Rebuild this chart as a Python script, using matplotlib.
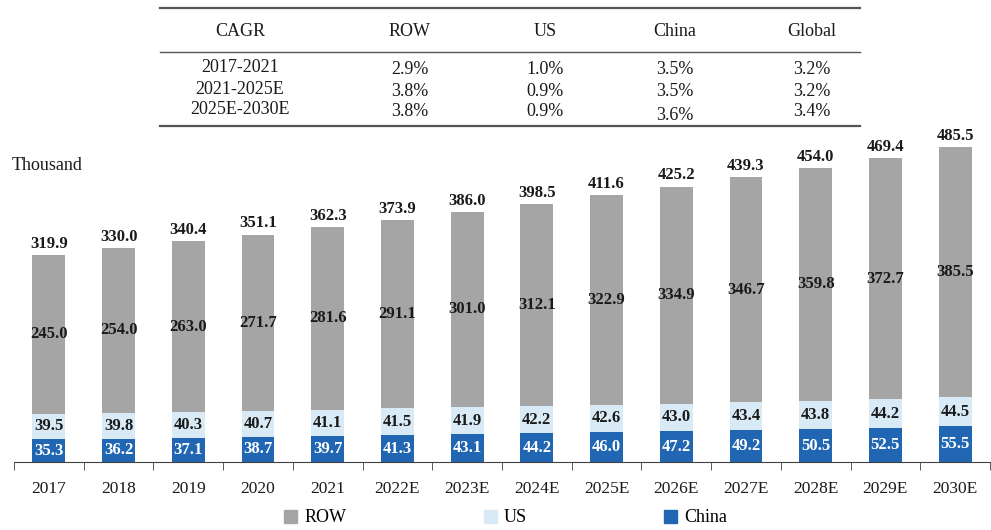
import numpy as np
import matplotlib
matplotlib.use("Agg")
import matplotlib.pyplot as plt
from matplotlib.lines import Line2D
from matplotlib.patches import Patch

plt.rcParams["font.family"] = ["Liberation Serif", "DejaVu Serif"]

years = ["2017", "2018", "2019", "2020", "2021", "2022E", "2023E", "2024E",
         "2025E", "2026E", "2027E", "2028E", "2029E", "2030E"]
china = [35.3, 36.2, 37.1, 38.7, 39.7, 41.3, 43.1, 44.2, 46.0, 47.2, 49.2, 50.5, 52.5, 55.5]
us = [39.5, 39.8, 40.3, 40.7, 41.1, 41.5, 41.9, 42.2, 42.6, 43.0, 43.4, 43.8, 44.2, 44.5]
row = [245.0, 254.0, 263.0, 271.7, 281.6, 291.1, 301.0, 312.1, 322.9, 334.9, 346.7, 359.8, 372.7, 385.5]
total = [319.9, 330.0, 340.4, 351.1, 362.3, 373.9, 386.0, 398.5, 411.6, 425.2, 439.3, 454.0, 469.4, 485.5]

cagr_header = ["CAGR", "ROW", "US", "China", "Global"]
cagr_periods = ["2017-2021", "2021-2025E", "2025E-2030E"]
cagr_row = ["2.9%", "3.8%", "3.8%"]
cagr_us = ["1.0%", "0.9%", "0.9%"]
cagr_china = ["3.5%", "3.5%", "3.6%"]
cagr_global = ["3.2%", "3.2%", "3.4%"]

c_row = "#a5a5a5"
c_us = "#d9eaf7"
c_china = "#2066b3"
txt = "#1a1a1a"

W, H = 991, 530
fig = plt.figure(figsize=(W / 100, H / 100), dpi=100)
ax = fig.add_axes([14 / W, 1 - 462 / H, (990 - 14) / W, (462 - 140) / H])

x = np.arange(len(years))
bw = 0.47
china = np.array(china)
us = np.array(us)
row = np.array(row)
ax.bar(x, china, bw, color=c_china)
ax.bar(x, us, bw, bottom=china, color=c_us)
ax.bar(x, row, bw, bottom=china + us, color=c_row)

lab = dict(fontsize=12, fontweight="bold", ha="center")
for i in range(len(years)):
    ax.text(x[i], china[i] / 2, f"{china[i]:.1f}", va="center", color="white",
            bbox=dict(boxstyle="square,pad=0.1", fc=c_china, ec="none"), **lab)
    ax.text(x[i], china[i] + us[i] / 2, f"{us[i]:.1f}", va="center", color=txt,
            bbox=dict(boxstyle="square,pad=0.1", fc=c_us, ec="none"), **lab)
    ax.text(x[i], china[i] + us[i] + row[i] / 2, f"{row[i]:.1f}", va="center",
            color=txt, **lab)
    ax.text(x[i], total[i] + 5, f"{total[i]:.1f}", va="bottom", color=txt, **lab)

ax.set_xlim(-0.5, len(years) - 0.5)
ax.set_ylim(0, 497)
ax.set_xticks(x)
ax.set_xticklabels(years, fontsize=12.5, color=txt)
ax.set_xticks(np.arange(len(years) + 1) - 0.5, minor=True)
ax.tick_params(axis="x", which="major", length=0, pad=14)
ax.tick_params(axis="x", which="minor", length=6, color="#404040")
ax.set_yticks([])
for s in ["top", "right", "left"]:
    ax.spines[s].set_visible(False)
ax.spines["bottom"].set_color("#404040")
ax.patch.set_alpha(0)

fig.text(12 / W, 1 - 165 / H, "Thousand", fontsize=13, color=txt, va="center", ha="left")

# CAGR table
x0, x1 = 160 / W, 860 / W
fig.add_artist(Line2D([x0, x1], [1 - 8 / H] * 2, color="#555555", lw=1.6))
fig.add_artist(Line2D([x0, x1], [1 - 52 / H] * 2, color="#555555", lw=1.0))
fig.add_artist(Line2D([x0, x1], [1 - 126 / H] * 2, color="#555555", lw=1.6))
col_x = [240, 410, 545, 675, 812]
for cx, h in zip(col_x, cagr_header):
    fig.text(cx / W, 1 - 32 / H, h, ha="center", va="center", fontsize=13, color=txt)
row_y = [68, 89, 110]
cols = [cagr_periods, cagr_row, cagr_us, cagr_china, cagr_global]
for j, col in enumerate(cols):
    for r, val in enumerate(col):
        yy = row_y[r] + (0 if j == 0 else 2)
        if j == 3 and r == 2:
            yy += 3
        fig.text(col_x[j] / W, 1 - yy / H, val, ha="center", va="center",
                 fontsize=13, color=txt)

handles = [Patch(color=c_row), Patch(color=c_us), Patch(color=c_china)]
fig.legend(handles, ["ROW", "US", "China"], loc="center", ncol=3,
           bbox_to_anchor=(506 / W, 1 - 518 / H), frameon=False, fontsize=13,
           handlelength=0.72, handleheight=0.72, handletextpad=0.4,
           columnspacing=7.6, borderpad=0)

fig.savefig("out.png", dpi=100)
